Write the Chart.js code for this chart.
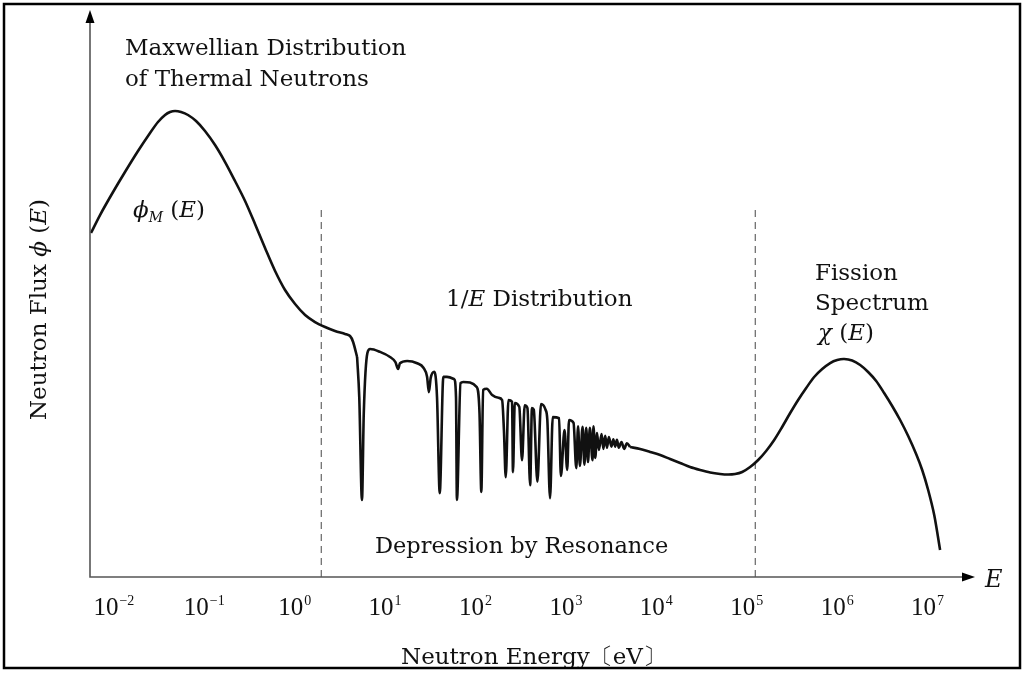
<!DOCTYPE html>
<html>
<head>
<meta charset="utf-8">
<script src="https://cdn.jsdelivr.net/npm/chart.js@4.4.1/dist/chart.umd.min.js"></script>
<style>
  html, body { margin: 0; padding: 0; background: #fff; }
  #flux { display: block; }
</style>
</head>
<body>
<canvas id="flux" width="1025" height="675"></canvas>
<script>
// Data (x = log10 of neutron energy in eV, y = flux in arbitrary units)
const logEnergy = [
  // Maxwellian (thermal) part
  -2.247, -2.147, -2.003, -1.871, -1.727, -1.594, -1.506, -1.428, -1.373, -1.317,
  -1.251, -1.174, -1.085, -0.986, -0.875, -0.764, -0.654, -0.543, -0.433, -0.322,
  -0.211, -0.101, 0.010, 0.121, 0.231, 0.342, 0.452, 0.563, 0.618, 0.652,
  0.696,
  // resonance part
  0.72, 0.75, 0.77, 0.81, 0.84, 0.95, 1.06, 1.12, 1.15, 1.17,
  1.25, 1.36, 1.43, 1.47, 1.49, 1.51, 1.55, 1.58, 1.61, 1.65,
  1.69, 1.77, 1.79, 1.80, 1.84, 1.87, 2.02, 2.05, 2.07, 2.09,
  2.13, 2.19, 2.26, 2.30, 2.32, 2.34, 2.37, 2.41, 2.42, 2.44,
  2.49, 2.52, 2.55, 2.58, 2.61, 2.63, 2.65, 2.69, 2.73, 2.78,
  2.80, 2.83, 2.86, 2.93, 2.95, 2.99, 3.02, 3.04, 3.09, 3.12,
  3.14, 3.16, 3.19, 3.21, 3.23, 3.25, 3.27, 3.30, 3.31, 3.33,
  3.35, 3.37, 3.40, 3.42, 3.44, 3.46, 3.48, 3.51, 3.53, 3.55,
  3.57, 3.59, 3.62, 3.65, 3.68, 3.716,
  // 1/E tail and fission spectrum
  3.826, 3.937, 4.048, 4.158, 4.269, 4.379, 4.490, 4.601, 4.711, 4.800,
  4.877, 4.955, 5.043, 5.132, 5.220, 5.309, 5.397, 5.486, 5.574, 5.663,
  5.751, 5.840, 5.928, 6.006, 6.083, 6.171, 6.260, 6.348, 6.437, 6.525,
  6.614, 6.702, 6.791, 6.879, 6.946, 7.012, 7.079, 7.144
];
const flux = [
  60.67, 63.84, 67.90, 71.43, 75.13, 78.31, 80.25, 81.48, 82.01, 82.19,
  82.01, 81.48, 80.42, 78.66, 76.19, 73.19, 69.84, 66.31, 62.26, 58.02,
  53.97, 50.62, 48.15, 46.21, 44.97, 44.09, 43.39, 42.86, 42.50, 41.45,
  38.80,
  31.7, 13.6, 28.9, 39.5, 40.2, 39.7, 38.8, 37.9, 36.7, 37.7,
  38.1, 37.7, 36.9, 35.3, 32.6, 35.1, 36.2, 31.7, 14.8, 35.3,
  35.3, 34.9, 31.7, 13.6, 34.2, 34.4, 33.5, 28.9, 15.0, 33.0,
  33.2, 32.1, 31.6, 31.2, 25.9, 17.6, 31.2, 30.9, 18.5, 30.7,
  30.0, 20.6, 30.3, 29.8, 16.2, 29.8, 29.5, 16.8, 30.5, 29.5,
  27.7, 13.9, 28.2, 28.0, 17.8, 25.9, 18.9, 27.7, 27.2, 19.2,
  26.6, 19.6, 26.5, 19.8, 26.3, 20.3, 26.3, 20.6, 26.6, 21.0,
  25.4, 22.4, 25.2, 22.6, 24.9, 22.8, 24.7, 23.0, 24.3, 23.0,
  24.2, 22.8, 23.8, 22.6, 23.6, 22.93,
  22.57, 22.05, 21.52, 20.81, 20.11, 19.40, 18.87, 18.43, 18.17, 18.08,
  18.17, 18.52, 19.40, 20.63, 22.22, 24.16, 26.46, 28.92, 31.22, 33.33,
  35.27, 36.68, 37.74, 38.27, 38.45, 38.18, 37.39, 36.16, 34.57, 32.45,
  30.16, 27.69, 24.87, 21.69, 18.87, 15.34, 10.93, 4.76
];
// index ranges: smooth thermal part, resonance part, smooth fast part
const thermalEnd = 30;
const resonanceEnd = 116;
// region boundaries (log10 E) and their height
const boundaries = [0.3, 5.1];
const boundaryTop = 65.3;
// decade ticks
const decades = [-2, -1, 0, 1, 2, 3, 4, 5, 6, 7];
const xRange = [-2.258, 7.53];

const SERIF = '"DejaVu Serif", "Liberation Serif", serif';
const TICKFONT = '"Liberation Serif", "DejaVu Serif", serif';
const TXT = 23;

const drawRuns = (ctx, x, y, runs) => {
    runs.forEach(r => {
        ctx.font = r.font;
        ctx.fillText(r.text, x, y + (r.dy || 0));
        x += ctx.measureText(r.text).width;
    });
};
const reg = (s) => `${s}px ${SERIF}`;
const ita = (s) => `italic ${s}px ${SERIF}`;

const arrow = (ctx, x, y, dir) => {
    ctx.save();
    ctx.translate(x, y);
    ctx.rotate(dir);
    ctx.beginPath();
    ctx.moveTo(0, 0);
    ctx.lineTo(-13, -4.5);
    ctx.lineTo(-13, 4.5);
    ctx.closePath();
    ctx.fillStyle = "#000";
    ctx.fill();
    ctx.restore();
};

const diagramPlugin = {
    id: "diagram",
    afterDraw(chart) {
        const ctx = chart.ctx;
        const a = chart.chartArea;
        const xs = chart.scales.x;
        ctx.save();
        // axes
        ctx.strokeStyle = "#555";
        ctx.lineWidth = 1.6;
        ctx.beginPath();
        ctx.moveTo(a.left, a.top + 8);
        ctx.lineTo(a.left, a.bottom);
        ctx.lineTo(a.right - 8, a.bottom);
        ctx.stroke();
        arrow(ctx, a.left, a.top, -Math.PI / 2);
        arrow(ctx, a.right, a.bottom, 0);

        // decade tick labels 10^n
        ctx.fillStyle = "#111";
        ctx.textBaseline = "alphabetic";
        ctx.textAlign = "left";
        xs.ticks.forEach(t => {
            const n = Math.round(Math.log10(t.value));
            const px = xs.getPixelForValue(t.value);
            const exp = n < 0 ? "−" + (-n) : String(n);
            ctx.font = `25px ${TICKFONT}`;
            const wb = ctx.measureText("10").width;
            ctx.font = `14px ${TICKFONT}`;
            const we = ctx.measureText(exp).width;
            const x0 = px - (wb + we) / 2;
            ctx.font = `25px ${TICKFONT}`;
            ctx.fillText("10", x0, 615);
            ctx.font = `14px ${TICKFONT}`;
            ctx.fillText(exp, x0 + wb + 1, 605);
        });

        drawRuns(ctx, 125, 55, [{text: "Maxwellian Distribution", font: reg(TXT)}]);
        drawRuns(ctx, 125, 86, [{text: "of Thermal Neutrons", font: reg(TXT)}]);
        drawRuns(ctx, 133, 217, [
            {text: "ϕ", font: ita(TXT)},
            {text: "M", font: ita(14), dy: 5},
            {text: " (", font: reg(TXT)},
            {text: "E", font: ita(TXT)},
            {text: ")", font: reg(TXT)}
        ]);
        drawRuns(ctx, 446, 306, [
            {text: "1/", font: reg(TXT)},
            {text: "E", font: ita(TXT)},
            {text: " Distribution", font: reg(TXT)}
        ]);
        drawRuns(ctx, 815, 280, [{text: "Fission", font: reg(TXT)}]);
        drawRuns(ctx, 815, 310, [{text: "Spectrum", font: reg(TXT)}]);
        drawRuns(ctx, 818, 340, [
            {text: "χ", font: ita(TXT)},
            {text: " (", font: reg(TXT)},
            {text: "E", font: ita(TXT)},
            {text: ")", font: reg(TXT)}
        ]);
        drawRuns(ctx, 375, 553, [{text: "Depression by Resonance", font: reg(22.5)}]);
        drawRuns(ctx, 985, 587, [{text: "E", font: ita(24)}]);
        drawRuns(ctx, 401, 664, [{text: "Neutron Energy〔eV〕", font: reg(TXT)}]);

        // y title
        ctx.save();
        ctx.translate(46, 420);
        ctx.rotate(-Math.PI / 2);
        drawRuns(ctx, 0, 0, [
            {text: "Neutron Flux ", font: reg(TXT)},
            {text: "ϕ", font: ita(TXT)},
            {text: " (", font: reg(TXT)},
            {text: "E", font: ita(TXT)},
            {text: ")", font: reg(TXT)}
        ]);
        ctx.restore();

        // frame
        ctx.strokeStyle = "#000";
        ctx.lineWidth = 2.5;
        ctx.strokeRect(4, 4, 1016, 664);
        ctx.restore();
    }
};

const points = logEnergy.map((e, i) => ({x: Math.pow(10, e), y: flux[i]}));
const curveStyle = {borderColor: "#111", borderWidth: 2.6, pointRadius: 0, order: 1};
const boundarySets = boundaries.map(b => ({
    data: [{x: Math.pow(10, b), y: 0}, {x: Math.pow(10, b), y: boundaryTop}],
    borderColor: "#666",
    borderWidth: 1.2,
    borderDash: [7, 5],
    pointRadius: 0,
    order: 2
}));

new Chart(document.querySelector("#flux"), {
    type: "line",
    data: {
        datasets: [
            {...curveStyle, data: points.slice(0, thermalEnd + 1), tension: 0.3},
            {...curveStyle, data: points.slice(thermalEnd, resonanceEnd + 1), cubicInterpolationMode: "monotone"},
            {...curveStyle, data: points.slice(resonanceEnd), tension: 0.3},
            ...boundarySets
        ]
    },
    options: {
        responsive: false,
        animation: false,
        devicePixelRatio: 1,
        layout: {padding: {left: 90, right: 50, top: 10, bottom: 0}},
        plugins: {legend: {display: false}, tooltip: {enabled: false}},
        scales: {
            x: {
                type: "logarithmic",
                min: Math.pow(10, xRange[0]),
                max: Math.pow(10, xRange[1]),
                grid: {display: false, drawTicks: false},
                border: {display: false},
                afterBuildTicks: (axis) => {
                    axis.ticks = decades.map(n => ({value: Math.pow(10, n)}));
                },
                afterFit: (axis) => { axis.height = 98; },
                ticks: {display: false}
            },
            y: {
                type: "linear",
                min: 0,
                max: 100,
                display: false
            }
        }
    },
    plugins: [diagramPlugin]
});
</script>
</body>
</html>
